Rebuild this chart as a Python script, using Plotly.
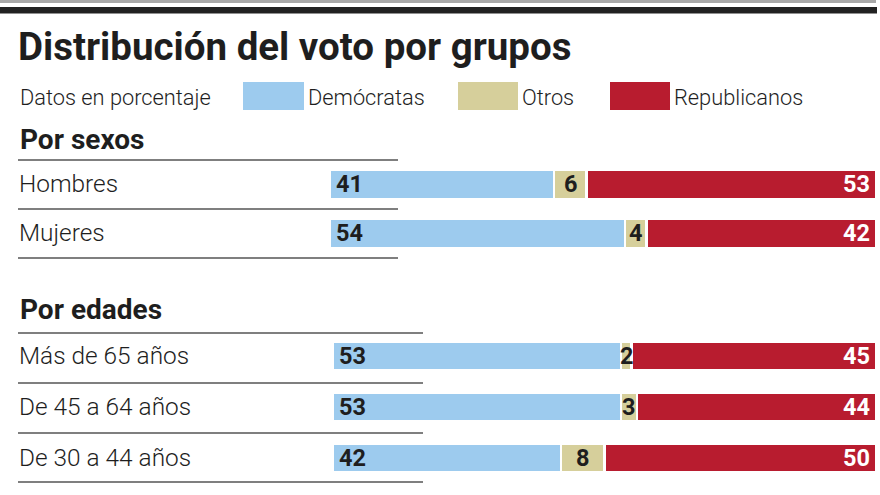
import plotly.graph_objects as go

# ---- data ----
title = "Distribución del voto por grupos"
subtitle = "Datos en porcentaje"
series_names = ["Demócratas", "Otros", "Republicanos"]

sec1_title = "Por sexos"
sec1_cats = ["Hombres", "Mujeres"]
sec1_dem = [41, 54]
sec1_otr = [6, 4]
sec1_rep = [53, 42]

sec2_title = "Por edades"
sec2_cats = ["Más de 65 años", "De 45 a 64 años", "De 30 a 44 años"]
sec2_dem = [53, 53, 42]
sec2_otr = [2, 3, 8]
sec2_rep = [45, 44, 50]

# ---- style ----
W, H = 880, 495
C_DEM = "#9dcbee"
C_OTR = "#d6cf9b"
C_REP = "#b81c2f"
C_TXT = "#1e1e1e"
FONT = "Roboto"


def px_x(p):
    return p / W


def px_y(p):
    return 1 - p / H


fig = go.Figure()

sections = [
    dict(cats=sec1_cats, vals=[sec1_dem, sec1_otr, sec1_rep], xa="x", ya="y", width=0.6),
    dict(cats=sec2_cats, vals=[sec2_dem, sec2_otr, sec2_rep], xa="x2", ya="y2", width=0.56),
]
colors = [C_DEM, C_OTR, C_REP]

for s in sections:
    for name, vals, col in zip(series_names, s["vals"], colors):
        fig.add_trace(go.Bar(
            y=s["cats"], x=vals, name=name, orientation="h",
            marker=dict(color=col, line=dict(color="white", width=2.4)),
            width=s["width"], xaxis=s["xa"], yaxis=s["ya"],
            showlegend=False, hoverinfo="skip",
        ))

layout = dict(
    width=W, height=H, barmode="stack",
    margin=dict(l=0, r=0, t=0, b=0),
    paper_bgcolor="white", plot_bgcolor="white",
    font=dict(family=FONT, color=C_TXT),
    xaxis=dict(domain=[px_x(330), px_x(876)], range=[0, 100], visible=False, fixedrange=True),
    yaxis=dict(domain=[px_y(257.5), px_y(159.5)], range=[1.5, -0.5], visible=False,
               type="category", categoryarray=sec1_cats, anchor="x"),
    xaxis2=dict(domain=[px_x(333), px_x(876)], range=[0, 100], visible=False, anchor="y2"),
    yaxis2=dict(domain=[px_y(482.9), px_y(330.6)], range=[2.5, -0.5], visible=False,
                type="category", categoryarray=sec2_cats, anchor="x2"),
)
fig.update_layout(**layout)

ann = []
shapes = []

# top rules
shapes.append(dict(type="rect", xref="paper", yref="paper", x0=0, x1=px_x(876),
                   y0=px_y(3), y1=px_y(0), fillcolor="#a8a8a8", line=dict(width=0)))
shapes.append(dict(type="rect", xref="paper", yref="paper", x0=0, x1=px_x(877),
                   y0=px_y(13.5), y1=px_y(7), fillcolor="#222222", line=dict(width=0)))

# title
ann.append(dict(text=f"<b>{title}</b>", x=px_x(16), y=px_y(46), xref="paper", yref="paper",
                xanchor="left", yanchor="middle", showarrow=False,
                font=dict(size=38.5, family=FONT, color=C_TXT, weight=900)))

# legend row
leg_font = dict(size=21.8, family=FONT, color=C_TXT, weight=300)
ann.append(dict(text=subtitle, x=px_x(18), y=px_y(97), xref="paper", yref="paper",
                xanchor="left", yanchor="middle", showarrow=False, font=leg_font))
leg_pos = [(243, 304), (458, 518), (610, 670)]
for (x0, x1), name, col in zip(leg_pos, series_names, colors):
    shapes.append(dict(type="rect", xref="paper", yref="paper", x0=px_x(x0), x1=px_x(x1),
                       y0=px_y(110), y1=px_y(82), fillcolor=col, line=dict(width=0)))
    ann.append(dict(text=name, x=px_x(x1 + 2), y=px_y(97), xref="paper", yref="paper",
                    xanchor="left", yanchor="middle", showarrow=False, font=leg_font))

# section headers
for txt, yc in [(sec1_title, 139), (sec2_title, 309)]:
    ann.append(dict(text=f"<b>{txt}</b>", x=px_x(18), y=px_y(yc), xref="paper", yref="paper",
                    xanchor="left", yanchor="middle", showarrow=False,
                    font=dict(size=28, family=FONT, color=C_TXT, weight=900)))

# separator lines
for yy in [160, 209, 258]:
    shapes.append(dict(type="line", xref="paper", yref="paper", x0=px_x(18), x1=px_x(398),
                       y0=px_y(yy), y1=px_y(yy), line=dict(color="#555555", width=1.5)))
for yy in [333, 383, 433, 482]:
    shapes.append(dict(type="line", xref="paper", yref="paper", x0=px_x(18), x1=px_x(423),
                       y0=px_y(yy), y1=px_y(yy), line=dict(color="#555555", width=1.5)))

# row labels and value labels
for s in sections:
    dem, otr, rep = s["vals"]
    for i, cat in enumerate(s["cats"]):
        ann.append(dict(text=cat, x=px_x(17), y=cat, xref="paper", yref=s["ya"],
                        xanchor="left", yanchor="middle", showarrow=False,
                        font=dict(size=24.4, family=FONT, color=C_TXT, weight=300)))
        lab_font = dict(size=23.5, family=FONT, color=C_TXT, weight=900)
        ann.append(dict(text=f"<b>{dem[i]}</b>", x=0, y=cat, xref=s["xa"], yref=s["ya"],
                        xanchor="left", yanchor="middle", xshift=4, showarrow=False, font=lab_font))
        ann.append(dict(text=f"<b>{otr[i]}</b>", x=dem[i] + otr[i] / 2, y=cat, xref=s["xa"],
                        yref=s["ya"], xanchor="center", yanchor="middle", showarrow=False,
                        font=lab_font))
        ann.append(dict(text=f"<b>{rep[i]}</b>", x=dem[i] + otr[i] + rep[i], y=cat,
                        xref=s["xa"], yref=s["ya"], xanchor="right", yanchor="middle",
                        xshift=-4, showarrow=False,
                        font=dict(size=23.5, family=FONT, color="white", weight=900)))

fig.update_layout(annotations=ann, shapes=shapes)
fig.write_html("out.html", config={"displayModeBar": False},
               post_script="document.body.style.margin='0';document.body.style.overflow='hidden';")
